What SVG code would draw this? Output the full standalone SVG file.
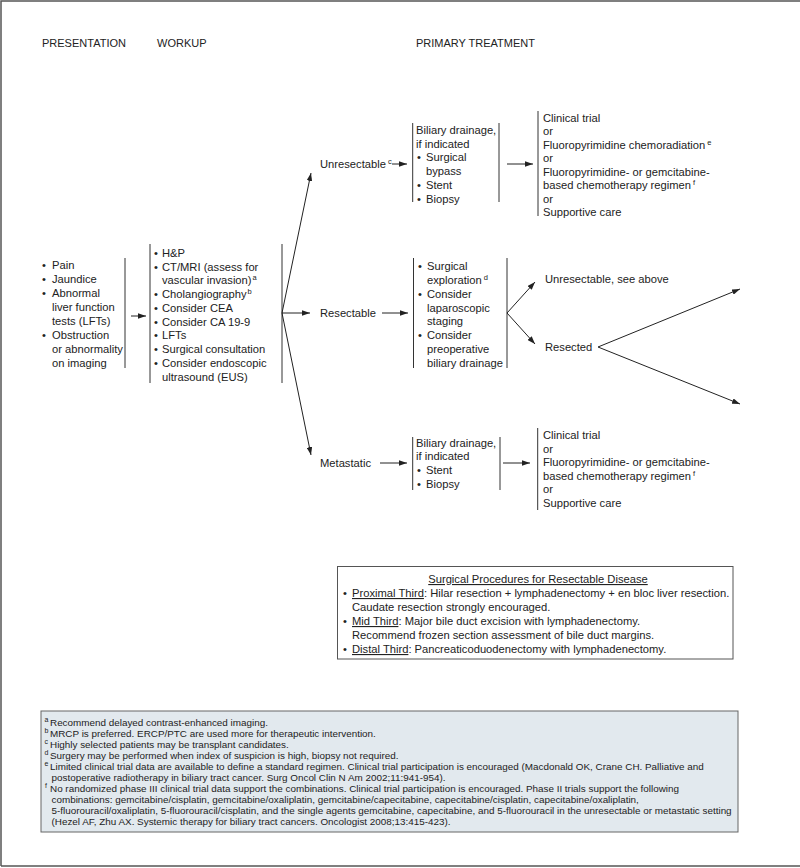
<svg xmlns="http://www.w3.org/2000/svg" width="800" height="868" viewBox="0 0 800 868">
<style>
text{font-family:"Liberation Sans",Arial,sans-serif;fill:#222}
.t{font-size:11.2px}
.h{font-size:11px}
.fn{font-size:9.9px}
.fs{font-size:7px}
.sp{font-size:7.5px}
.bar{stroke:#333;stroke-width:1;fill:none}
.con{stroke:#222;stroke-width:1;fill:none;marker-end:url(#ah)}
.frame{stroke:#555;stroke-width:1.5;fill:none}
</style>
<defs>
<marker id="ah" viewBox="0 0 10 7" refX="10" refY="3.5" markerWidth="8" markerHeight="5.6" orient="auto" markerUnits="userSpaceOnUse">
<path d="M0,0 L10,3.5 L0,7 z" fill="#222"/>
</marker>
</defs>
<rect x="0" y="0" width="800" height="868" fill="#fff"/>
<path class="frame" d="M1,866 V1 H800 M1,866 H800"/>

<g id="headers">
<text class="h" x="42" y="47">PRESENTATION</text>
<text class="h" x="157" y="47">WORKUP</text>
<text class="h" x="416" y="47">PRIMARY TREATMENT</text>
</g>

<g id="presentation">
<line class="bar" x1="125" y1="258" x2="125" y2="368"/>
<text class="t" x="42" y="269">•</text><text class="t" x="52" y="269">Pain</text>
<text class="t" x="42" y="283">•</text><text class="t" x="52" y="283">Jaundice</text>
<text class="t" x="42" y="297">•</text><text class="t" x="52" y="297">Abnormal</text>
<text class="t" x="52" y="311">liver function</text>
<text class="t" x="52" y="325">tests (LFTs)</text>
<text class="t" x="42" y="339">•</text><text class="t" x="52" y="339">Obstruction</text>
<text class="t" x="52" y="353">or abnormality</text>
<text class="t" x="52" y="367">on imaging</text>
</g>

<g id="workup">
<line class="bar" x1="150" y1="244" x2="150" y2="383"/>
<line class="bar" x1="282" y1="244" x2="282" y2="383"/>
<text class="t" x="154" y="256.7">•</text><text class="t" x="162" y="256.7">H&amp;P</text>
<text class="t" x="154" y="270.5">•</text><text class="t" x="162" y="270.5">CT/MRI (assess for</text>
<text class="t" x="162" y="284.2">vascular invasion)<tspan class="sp" dx="1" dy="-4">a</tspan></text>
<text class="t" x="154" y="298">•</text><text class="t" x="162" y="298">Cholangiography<tspan class="sp" dx="1" dy="-4">b</tspan></text>
<text class="t" x="154" y="311.8">•</text><text class="t" x="162" y="311.8">Consider CEA</text>
<text class="t" x="154" y="325.6">•</text><text class="t" x="162" y="325.6">Consider CA 19-9</text>
<text class="t" x="154" y="339.4">•</text><text class="t" x="162" y="339.4">LFTs</text>
<text class="t" x="154" y="353.1">•</text><text class="t" x="162" y="353.1">Surgical consultation</text>
<text class="t" x="154" y="366.9">•</text><text class="t" x="162" y="366.9">Consider endoscopic</text>
<text class="t" x="162" y="380.7">ultrasound (EUS)</text>
</g>

<g id="unresectable">
<text class="t" x="320" y="168">Unresectable<tspan class="sp" dx="2" dy="-4">c</tspan></text>
</g>

<g id="unresectable-drainage">
<line class="bar" x1="412.7" y1="123" x2="412.7" y2="202"/>
<line class="bar" x1="499" y1="123" x2="499" y2="202"/>
<text class="t" x="416" y="134">Biliary drainage,</text>
<text class="t" x="416" y="147.7">if indicated</text>
<text class="t" x="417" y="161.4">•</text><text class="t" x="426" y="161.4">Surgical</text>
<text class="t" x="426" y="175.1">bypass</text>
<text class="t" x="417" y="188.8">•</text><text class="t" x="426" y="188.8">Stent</text>
<text class="t" x="417" y="202.5">•</text><text class="t" x="426" y="202.5">Biopsy</text>
</g>

<g id="unresectable-treatment">
<line class="bar" x1="538" y1="111" x2="538" y2="216"/>
<text class="t" x="543" y="121.7">Clinical trial</text>
<text class="t" x="543" y="135.2">or</text>
<text class="t" x="543" y="148.6">Fluoropyrimidine chemoradiation<tspan class="sp" dx="2" dy="-4">e</tspan></text>
<text class="t" x="543" y="162.1">or</text>
<text class="t" x="543" y="175.6">Fluoropyrimidine- or gemcitabine-</text>
<text class="t" x="543" y="189.1">based chemotherapy regimen<tspan class="sp" dx="2" dy="-4">f</tspan></text>
<text class="t" x="543" y="202.5">or</text>
<text class="t" x="543" y="216">Supportive care</text>
</g>

<g id="resectable">
<text class="t" x="320" y="317">Resectable</text>
</g>

<g id="resectable-workup">
<line class="bar" x1="413.5" y1="258" x2="413.5" y2="368"/>
<line class="bar" x1="507" y1="258" x2="507" y2="368"/>
<text class="t" x="418" y="270">•</text><text class="t" x="427" y="270">Surgical</text>
<text class="t" x="427" y="283.9">exploration<tspan class="sp" dx="2" dy="-4">d</tspan></text>
<text class="t" x="418" y="297.7">•</text><text class="t" x="427" y="297.7">Consider</text>
<text class="t" x="427" y="311.6">laparoscopic</text>
<text class="t" x="427" y="325.4">staging</text>
<text class="t" x="418" y="339.3">•</text><text class="t" x="427" y="339.3">Consider</text>
<text class="t" x="427" y="353.1">preoperative</text>
<text class="t" x="427" y="367">biliary drainage</text>
</g>

<g id="unresectable-see-above">
<text class="t" x="545" y="283">Unresectable, see above</text>
</g>

<g id="resected">
<text class="t" x="545" y="351">Resected</text>
</g>

<g id="metastatic">
<text class="t" x="320" y="467">Metastatic</text>
</g>

<g id="metastatic-drainage">
<line class="bar" x1="412.7" y1="437" x2="412.7" y2="490"/>
<line class="bar" x1="500" y1="437" x2="500" y2="490"/>
<text class="t" x="416" y="446.7">Biliary drainage,</text>
<text class="t" x="416" y="460.3">if indicated</text>
<text class="t" x="417" y="474">•</text><text class="t" x="426" y="474">Stent</text>
<text class="t" x="417" y="487.5">•</text><text class="t" x="426" y="487.5">Biopsy</text>
</g>

<g id="metastatic-treatment">
<line class="bar" x1="537.7" y1="428" x2="537.7" y2="510"/>
<text class="t" x="543" y="439">Clinical trial</text>
<text class="t" x="543" y="452.6">or</text>
<text class="t" x="543" y="466.2">Fluoropyrimidine- or gemcitabine-</text>
<text class="t" x="543" y="479.8">based chemotherapy regimen<tspan class="sp" dx="2" dy="-4">f</tspan></text>
<text class="t" x="543" y="493.4">or</text>
<text class="t" x="543" y="507">Supportive care</text>
</g>

<g id="connectors">
<line class="con" x1="131" y1="316" x2="146" y2="316"/>
<line class="con" x1="282" y1="313" x2="311" y2="173"/>
<line class="con" x1="282" y1="313" x2="310" y2="313"/>
<line class="con" x1="282" y1="313" x2="311" y2="455"/>
<line class="con" x1="392" y1="164" x2="407" y2="164"/>
<line class="con" x1="507" y1="164" x2="533" y2="164"/>
<line class="con" x1="382" y1="313" x2="408" y2="313"/>
<line class="con" x1="507" y1="313" x2="535" y2="282"/>
<line class="con" x1="507" y1="313" x2="535" y2="344"/>
<line class="con" x1="598" y1="347" x2="740" y2="289"/>
<line class="con" x1="598" y1="347" x2="740" y2="404"/>
<line class="con" x1="380" y1="463" x2="407" y2="463"/>
<line class="con" x1="503" y1="463" x2="530" y2="463"/>
</g>

<g id="surgical-procedures">
<rect x="337.5" y="566.5" width="395.5" height="92.5" fill="#fff" stroke="#555" stroke-width="1"/>
<text class="t" x="538" y="583" text-anchor="middle" text-decoration="underline">Surgical Procedures for Resectable Disease</text>
<text class="t" x="343" y="597">•</text><text class="t" x="352" y="597"><tspan text-decoration="underline">Proximal Third</tspan>: Hilar resection + lymphadenectomy + en bloc liver resection.</text>
<text class="t" x="352" y="611">Caudate resection strongly encouraged.</text>
<text class="t" x="343" y="625">•</text><text class="t" x="352" y="625"><tspan text-decoration="underline">Mid Third</tspan>: Major bile duct excision with lymphadenectomy.</text>
<text class="t" x="352" y="639">Recommend frozen section assessment of bile duct margins.</text>
<text class="t" x="343" y="653">•</text><text class="t" x="352" y="653"><tspan text-decoration="underline">Distal Third</tspan>: Pancreaticoduodenectomy with lymphadenectomy.</text>
</g>

<g id="footnotes">
<rect x="41" y="711" width="697" height="121" fill="#e2e9ee" stroke="#666" stroke-width="1"/>
<text class="fs" x="44.5" y="722">a</text><text class="fn" x="50" y="725.5">Recommend delayed contrast-enhanced imaging.</text>
<text class="fs" x="44.5" y="733">b</text><text class="fn" x="50" y="736.5">MRCP is preferred. ERCP/PTC are used more for therapeutic intervention.</text>
<text class="fs" x="44.5" y="744">c</text><text class="fn" x="50" y="747.5">Highly selected patients may be transplant candidates.</text>
<text class="fs" x="44.5" y="755">d</text><text class="fn" x="50" y="758.5">Surgery may be performed when index of suspicion is high, biopsy not required.</text>
<text class="fs" x="44.5" y="766">e</text><text class="fn" x="50" y="769.5">Limited clinical trial data are available to define a standard regimen. Clinical trial participation is encouraged (Macdonald OK, Crane CH. Palliative and</text>
<text class="fn" x="51.5" y="780.5">postoperative radiotherapy in biliary tract cancer. Surg Oncol Clin N Am 2002;11:941-954).</text>
<text class="fs" x="45" y="788">f</text><text class="fn" x="50" y="791.5">No randomized phase III clinical trial data support the combinations. Clinical trial participation is encouraged. Phase II trials support the following</text>
<text class="fn" x="51.5" y="802.5">combinations: gemcitabine/cisplatin, gemcitabine/oxaliplatin, gemcitabine/capecitabine, capecitabine/cisplatin, capecitabine/oxaliplatin,</text>
<text class="fn" x="51.5" y="813.5">5-fluorouracil/oxaliplatin, 5-fluorouracil/cisplatin, and the single agents gemcitabine, capecitabine, and 5-fluorouracil in the unresectable or metastatic setting</text>
<text class="fn" x="51.5" y="824.5">(Hezel AF, Zhu AX. Systemic therapy for biliary tract cancers. Oncologist 2008;13:415-423).</text>
</g>
</svg>
